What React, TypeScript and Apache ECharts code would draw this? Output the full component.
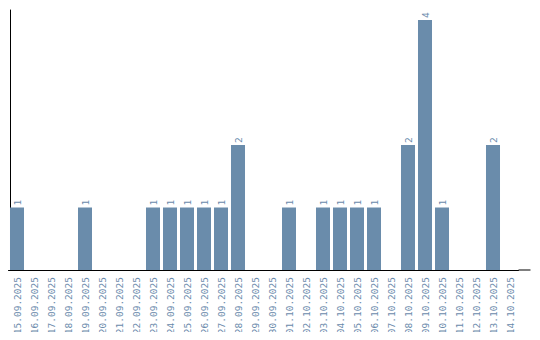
import React, { useEffect, useRef } from "react";
import * as echarts from "echarts";

const categories = [
  "15.09.2025", "16.09.2025", "17.09.2025", "18.09.2025", "19.09.2025",
  "20.09.2025", "21.09.2025", "22.09.2025", "23.09.2025", "24.09.2025",
  "25.09.2025", "26.09.2025", "27.09.2025", "28.09.2025", "29.09.2025",
  "30.09.2025", "01.10.2025", "02.10.2025", "03.10.2025", "04.10.2025",
  "05.10.2025", "06.10.2025", "07.10.2025", "08.10.2025", "09.10.2025",
  "10.10.2025", "11.10.2025", "12.10.2025", "13.10.2025", "14.10.2025",
];
const values = [1, 0, 0, 0, 1, 0, 0, 0, 1, 1, 1, 1, 1, 2, 0, 0, 1, 0, 1, 1, 1, 1, 0, 2, 4, 1, 0, 0, 2, 0];

const BAR = "#6a8cab";
const TEXT = "#6a8aab";
const FONT = "'DejaVu Sans Mono', monospace";

export default function App() {
  const ref = useRef<HTMLDivElement>(null);
  useEffect(() => {
    if (!ref.current) return;
    const chart = echarts.init(ref.current, null, { renderer: "svg" });
    chart.setOption({
      animation: false,
      grid: { left: 8.5, right: 21.5, top: 10, bottom: 70 },
      xAxis: {
        type: "category",
        data: categories,
        axisLine: { lineStyle: { color: "#000", width: 1 } },
        axisTick: { show: false },
        axisLabel: {
          rotate: 90,
          interval: 0,
          margin: 7,
          color: TEXT,
          fontSize: 9.5,
          fontFamily: FONT,
        },
      },
      yAxis: {
        type: "value",
        min: 0,
        max: 4.16,
        offset: -1.5,
        axisLine: { show: true, lineStyle: { color: "#000", width: 1 } },
        axisTick: { show: false },
        axisLabel: { show: false },
        splitLine: { show: false },
      },
      graphic: [
        {
          type: "line",
          shape: { x1: 518.5, y1: 270, x2: 530.5, y2: 270 },
          style: { stroke: "#000", lineWidth: 1 },
          silent: true,
        },
      ],
      series: [
        {
          type: "bar",
          data: values.map((v) => (v === 0 ? null : v)),
          barCategoryGap: "17.6%",
          itemStyle: { color: BAR },
          label: {
            show: true,
            position: "top",
            rotate: 90,
            align: "left",
            verticalAlign: "middle",
            distance: 2,
            color: TEXT,
            fontSize: 9.5,
            fontFamily: FONT,
          },
        },
      ],
    });
    return () => chart.dispose();
  }, []);
  return <div ref={ref} style={{ width: 540, height: 340, margin: -8 }} />;
}
